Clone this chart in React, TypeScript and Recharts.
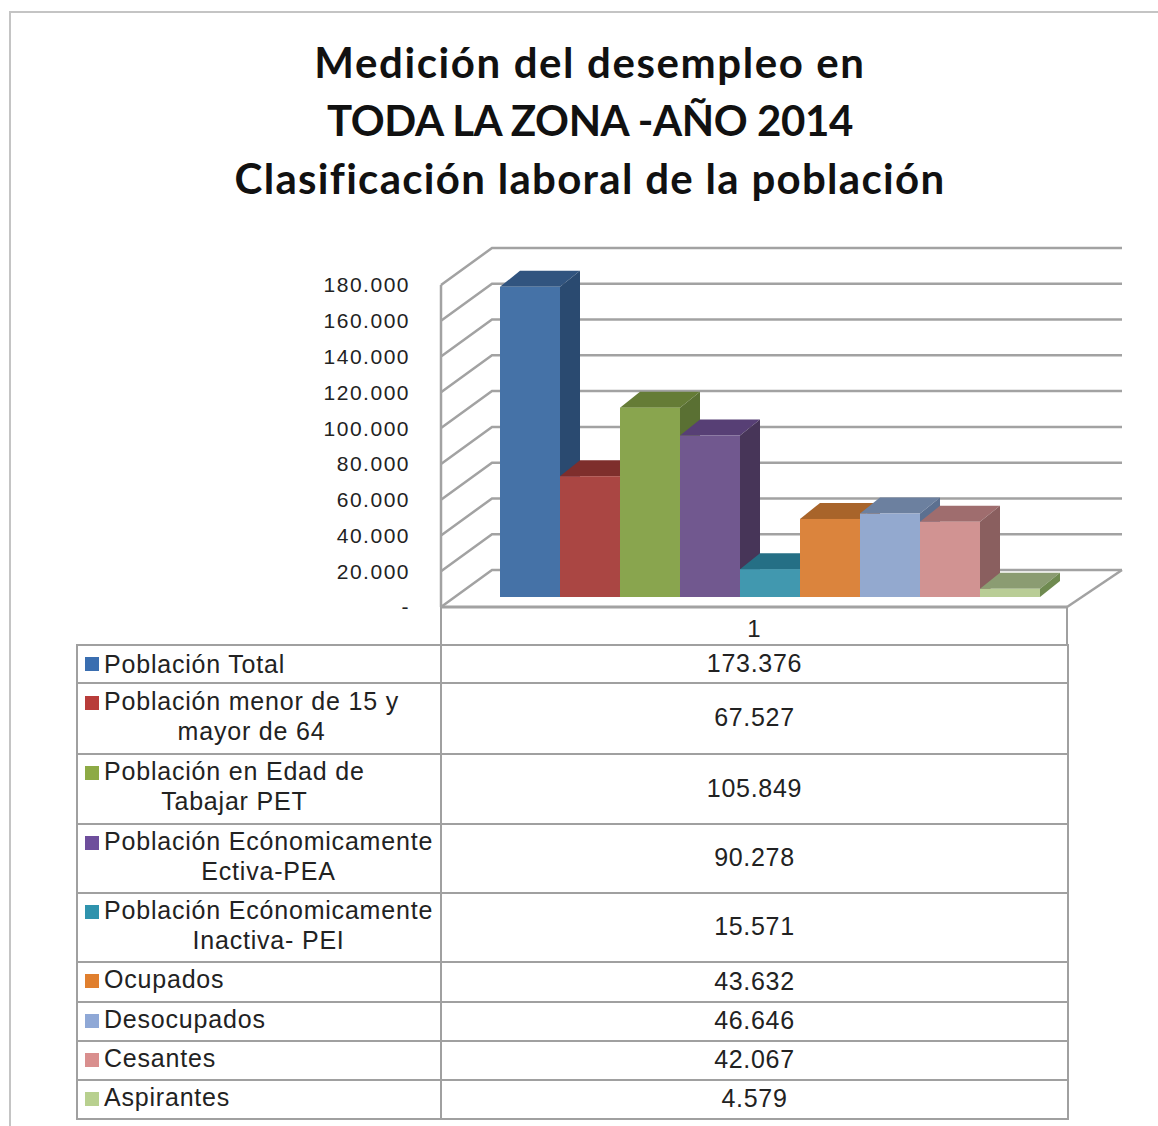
import React from 'react';
import { BarChart, Bar, XAxis, YAxis, CartesianGrid, ReferenceLine } from 'recharts';

const titleLines = ['Medición del desempleo en', 'TODA LA ZONA -AÑO 2014', 'Clasificación laboral de la población'];
const titleSpacing = [1.6, -0.4, 1.3];
const seriesNames = [
  ['Población Total'],
  ['Población menor de 15 y', 'mayor de 64'],
  ['Población en Edad de', 'Tabajar PET'],
  ['Población Ecónomicamente', 'Ectiva-PEA'],
  ['Población Ecónomicamente', 'Inactiva- PEI'],
  ['Ocupados'],
  ['Desocupados'],
  ['Cesantes'],
  ['Aspirantes'],
];
const seriesValues = [173376, 67527, 105849, 90278, 15571, 43632, 46646, 42067, 4579];
const yTicks = [0, 20000, 40000, 60000, 80000, 100000, 120000, 140000, 160000, 180000];
const categoryLabel = '1';

const frontColors = ['#4572A7', '#AA4643', '#89A54E', '#71588F', '#4198AF', '#DB843D', '#93A9CF', '#D19392', '#B9CD96'];
const topColors = ['#31547F', '#7E2E2C', '#657C36', '#573F75', '#256F85', '#A8642A', '#6C809F', '#9F6D6E', '#8B9C72'];
const sideColors = ['#2A4A70', '#6F2B29', '#5A7033', '#473558', '#1F5F72', '#8F5522', '#5C7090', '#8A5F5F', '#6F8A50'];
const keyColors = ['#3A6EB0', '#B83C3A', '#8DAA45', '#6E4E9C', '#2F93AD', '#E07F2E', '#8FA8D6', '#D98F8E', '#B8D08F'];
const rowHeights = [38, 71, 70, 69, 69, 40, 39, 39, 39];

const chartData = [
  seriesValues.reduce<Record<string, string | number>>(
    (row, v, i) => {
      row[`s${i}`] = v;
      return row;
    },
    { category: categoryLabel },
  ),
];

const GRID = '#a2a2a2';
const WALL_DX = 51;
const WALL_DY = -37;
const BAR_SHIFT_X = 16;
const BAR_SHIFT_Y = -10;
const DEPTH_X = 20;
const DEPTH_Y = -16;

const formatThousands = (v: number) => (v === 0 ? '-' : v.toLocaleString('de-DE'));

// grid line that runs up the side wall and then along the back wall
const wallLine = (props: any) => {
  const { x1, x2, y1 } = props;
  return (
    <polyline
      key={`wall-${y1}`}
      points={`${x1},${y1} ${x1 + WALL_DX},${y1 + WALL_DY} ${x2 + WALL_DX + 4},${y1 + WALL_DY}`}
      fill="none"
      stroke={GRID}
      strokeWidth={2.5}
    />
  );
};

const floorEdge = (props: any) => {
  const { x2, y1 } = props;
  return <line x1={x2} y1={y1} x2={x2 + WALL_DX + 4} y2={y1 + WALL_DY} stroke={GRID} strokeWidth={2.5} />;
};

const bar3d = (index: number) => (props: any) => {
  const x = props.x + BAR_SHIFT_X;
  const y = props.y + BAR_SHIFT_Y;
  const { width, height } = props;
  return (
    <g>
      <polygon
        points={`${x},${y} ${x + DEPTH_X},${y + DEPTH_Y} ${x + width + DEPTH_X},${y + DEPTH_Y} ${x + width},${y}`}
        fill={topColors[index]}
      />
      <polygon
        points={`${x + width},${y} ${x + width + DEPTH_X},${y + DEPTH_Y} ${x + width + DEPTH_X},${y + height + DEPTH_Y} ${x + width},${y + height}`}
        fill={sideColors[index]}
      />
      <rect x={x} y={y} width={width} height={height} fill={frontColors[index]} />
    </g>
  );
};

const cellBorder = `2px solid #a0a0a0`;
const sans = '"Liberation Sans", Arial, sans-serif';

export default function App() {
  return (
    <div style={{ position: 'absolute', left: 0, top: 0, width: 1158, height: 1126, background: '#fff', overflow: 'hidden' }}>
      <div style={{ position: 'absolute', left: 9, top: 11, width: 1149, height: 1115, borderLeft: '2px solid #c4c4c4', borderTop: '2px solid #c4c4c4' }} />
      <div style={{ position: 'absolute', left: 0, top: 33, width: 1180, textAlign: 'center', fontFamily: 'Lato, sans-serif', fontWeight: 700, fontSize: 42, lineHeight: '58px', color: '#111' }}>
        {titleLines.map((t, i) => (
          <div key={t} style={{ letterSpacing: titleSpacing[i] }}>{t}</div>
        ))}
      </div>
      <div style={{ position: 'absolute', left: 0, top: 0 }}>
        <BarChart
          width={1158}
          height={645}
          data={chartData}
          margin={{ top: 285, right: 91, bottom: 0, left: 0 }}
          barSize={60}
          barGap={0}
        >
          <CartesianGrid horizontal={wallLine} vertical={false} />
          <XAxis
            dataKey="category"
            height={38}
            tickLine={false}
            axisLine={{ stroke: GRID, strokeWidth: 3 }}
            tick={{ fill: '#222', fontSize: 24, fontFamily: sans }}
            tickMargin={7}
          />
          <YAxis
            width={441}
            domain={[0, 180000]}
            ticks={yTicks}
            interval={0}
            tickFormatter={formatThousands}
            tickLine={false}
            axisLine={{ stroke: GRID, strokeWidth: 2.5 }}
            tick={{ fill: '#222', fontSize: 21, fontFamily: sans, letterSpacing: 1.5 }}
            tickMargin={25}
          />
          <ReferenceLine y={0} shape={floorEdge} />
          {seriesValues.map((_, i) => (
            <Bar key={i} dataKey={`s${i}`} fill={frontColors[i]} shape={bar3d(i)} isAnimationActive={false} />
          ))}
        </BarChart>
      </div>
      <div style={{ position: 'absolute', left: 440, top: 607, width: 628, height: 38, borderLeft: cellBorder, borderRight: cellBorder, boxSizing: 'border-box' }} />
      <table
        style={{ position: 'absolute', left: 76, top: 644, width: 991, borderCollapse: 'collapse', tableLayout: 'fixed', fontFamily: sans, fontSize: 25, color: '#222' }}
      >
        <colgroup>
          <col style={{ width: 364 }} />
          <col style={{ width: 627 }} />
        </colgroup>
        <tbody>
          {seriesNames.map((lines, i) => (
            <tr key={i} style={{ height: rowHeights[i] }}>
              <td style={{ border: cellBorder, padding: '0 0 0 7px', lineHeight: '30px' }}>
                <div style={{ display: 'flex', alignItems: 'flex-start', position: 'relative', top: i === 0 ? 0 : -3 }}>
                  <span style={{ width: 14, height: 14, marginTop: i === 0 ? 8 : 10, marginRight: 6, background: keyColors[i], flex: 'none' }} />
                  <div style={{ textAlign: 'center', letterSpacing: 0.8, whiteSpace: 'nowrap', marginLeft: -1 }}>
                    {lines.map((l) => (
                      <div key={l}>{l}</div>
                    ))}
                  </div>
                </div>
              </td>
              <td style={{ border: cellBorder, padding: 0, textAlign: 'center', letterSpacing: 0.7 }}>
                <span style={{ position: 'relative', top: -1 }}>{seriesValues[i].toLocaleString('de-DE')}</span>
              </td>
            </tr>
          ))}
        </tbody>
      </table>
    </div>
  );
}
